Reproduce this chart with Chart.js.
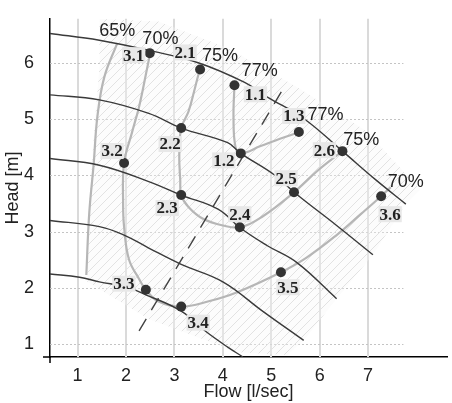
<!DOCTYPE html>
<html>
<head>
<meta charset="utf-8">
<script src="https://cdn.jsdelivr.net/npm/chart.js@4.4.0/dist/chart.umd.min.js"></script>
<style>
  html, body { margin: 0; padding: 0; background: #fff; }
  #wrap { width: 452px; height: 403px; }
</style>
</head>
<body>
<div id="wrap"><canvas id="pumpChart" width="452" height="403"></canvas></div>
<script>
// tick values
var flowTicks = [1, 2, 3, 4, 5, 6, 7];
var headTicks = [1, 2, 3, 4, 5, 6];

// pump curves (one per speed), top to bottom
var speedFlow1 = [0.43, 1.45, 2.47, 3.49, 4.45, 4.92, 5.67, 6.47, 7.16, 7.78];
var speedHead1 = [6.52, 6.40, 6.22, 6.00, 5.65, 5.39, 5.01, 4.43, 3.92, 3.49];
var speedFlow2 = [0.43, 1.45, 2.47, 3.14, 4.10, 4.37, 5.06, 5.53, 6.35, 7.10];
var speedHead2 = [5.43, 5.34, 5.10, 4.84, 4.58, 4.39, 4.01, 3.66, 3.11, 2.59];
var speedFlow3 = [0.43, 1.45, 2.47, 3.14, 3.90, 4.37, 4.92, 5.53, 6.35];
var speedHead3 = [4.30, 4.18, 3.89, 3.65, 3.40, 3.06, 2.75, 2.45, 1.81];
var speedFlow4 = [0.43, 1.45, 1.96, 2.47, 3.14, 4.00, 4.82, 5.67];
var speedHead4 = [3.20, 3.09, 2.94, 2.71, 2.42, 2.11, 1.59, 1.07];
var speedFlow5 = [0.43, 1.04, 1.45, 2.00, 2.41, 3.14, 3.63, 4.10, 4.41];
var speedHead5 = [2.25, 2.19, 2.11, 2.02, 1.88, 1.59, 1.24, 0.95, 0.78];

// iso-efficiency curves
var eff65Flow = [1.82, 1.55, 1.41, 1.33, 1.24, 1.18];
var eff65Head = [6.35, 5.74, 5.05, 4.18, 3.32, 2.23];
var eff70Flow = [2.51, 2.41, 2.27, 2.12, 1.96, 1.94, 1.96, 2.06, 2.27, 2.41, 2.67, 3.14, 3.69, 4.31, 5.20, 5.73, 6.35, 6.86, 7.27, 7.47];
var eff70Head = [6.22, 5.79, 5.22, 4.75, 4.22, 3.49, 3.09, 2.51, 2.16, 1.97, 1.76, 1.67, 1.76, 1.93, 2.28, 2.54, 2.94, 3.32, 3.63, 3.79];
var eff75Flow = [3.59, 3.53, 3.43, 3.29, 3.14, 3.10, 3.12, 3.14, 3.29, 3.59, 4.00, 4.37, 4.82, 5.47, 5.98, 6.47];
var eff75Head = [5.95, 5.88, 5.57, 5.13, 4.84, 4.36, 3.92, 3.65, 3.44, 3.23, 3.11, 3.08, 3.27, 3.70, 4.10, 4.43];
var eff77Flow = [4.24, 4.22, 4.26, 4.37, 4.78, 5.18, 5.59];
var eff77Head = [5.60, 5.04, 4.51, 4.39, 4.52, 4.65, 4.77];

// dashed line
var dashFlow = [2.27, 5.31];
var dashHead = [1.24, 5.63];

// hatched operating area outline
var areaFlow = [1.45, 2.67, 4.10, 5.53, 6.96, 8.08, 7.78, 7.10, 6.35, 5.67, 5.33, 4.31, 2.47, 1.20, 1.24, 1.35, 1.45, 1.45];
var areaHead = [6.78, 6.73, 6.26, 5.57, 4.79, 3.75, 3.49, 2.59, 1.81, 1.07, 0.81, 0.86, 1.45, 2.11, 3.49, 4.88, 5.91, 6.78];

// measured points
var pointNames = ['3.1', '2.1', '1.1', '1.3', '2.6', '3.6', '2.5', '1.2', '2.2', '3.2', '2.3', '2.4', '3.5', '3.3', '3.4'];
var pointFlow  = [2.49, 3.53, 4.24, 5.57, 6.47, 7.27, 5.47, 4.37, 3.14, 1.96, 3.14, 4.35, 5.20, 2.41, 3.14];
var pointHead  = [6.17, 5.88, 5.60, 4.77, 4.43, 3.63, 3.70, 4.39, 4.84, 4.22, 3.65, 3.08, 2.28, 1.97, 1.67];
// label offsets from the dot, in pixels
var labelShift = [[-16, 2], [-15, -17], [21, 9], [-5, -16], [-18, -1], [9, 18], [-8, -14], [-17, 7],
                  [-11, 16], [-12, -12], [-14, 13], [0, -13], [7, 15], [-22, -6], [17, 16]];

// efficiency labels
var effText = ['65%', '70%', '75%', '77%', '77%', '75%', '70%'];
var effFlow = [1.82, 2.71, 3.94, 4.76, 6.12, 6.86, 7.78];
var effHead = [6.57, 6.42, 6.12, 5.86, 5.08, 4.62, 3.89];

var gridEnd = 7.73;

function pts(xs, ys) {
  return xs.map(function (v, i) { return { x: v, y: ys[i] }; });
}

function makeHatch(ctx) {
  var c = document.createElement('canvas');
  c.width = 9; c.height = 9;
  var g = c.getContext('2d');
  g.fillStyle = 'rgba(246,246,246,0.35)';
  g.fillRect(0, 0, 9, 9);
  g.strokeStyle = '#e2e2e2';
  g.lineWidth = 1;
  g.beginPath();
  g.moveTo(0, 9); g.lineTo(9, 0);
  g.moveTo(-1, 1); g.lineTo(1, -1);
  g.moveTo(8, 10); g.lineTo(10, 8);
  g.stroke();
  return ctx.createPattern(c, 'repeat');
}

var gridPlugin = {
  id: 'grid',
  beforeDatasetsDraw: function (chart) {
    var ctx = chart.ctx, xs = chart.scales.x, ys = chart.scales.y, area = chart.chartArea;
    ctx.save();
    ctx.strokeStyle = '#dadada';
    ctx.lineWidth = 2;
    flowTicks.forEach(function (v) {
      var px = Math.round(xs.getPixelForValue(v));
      ctx.beginPath(); ctx.moveTo(px, area.top); ctx.lineTo(px, area.bottom); ctx.stroke();
    });
    ctx.strokeStyle = '#c4c4c4';
    ctx.lineWidth = 1;
    ctx.setLineDash([2, 2]);
    var right = xs.getPixelForValue(gridEnd);
    headTicks.forEach(function (v) {
      var py = Math.round(ys.getPixelForValue(v)) + 0.5;
      ctx.beginPath(); ctx.moveTo(area.left, py); ctx.lineTo(right, py); ctx.stroke();
    });
    ctx.restore();
  },
  afterDraw: function (chart) {
    // axes cross a little at the origin
    var ctx = chart.ctx, area = chart.chartArea;
    ctx.save();
    ctx.strokeStyle = '#000';
    ctx.lineWidth = 1.5;
    ctx.beginPath();
    ctx.moveTo(area.left, area.bottom); ctx.lineTo(area.left, area.bottom + 6);
    ctx.moveTo(area.left - 7, area.bottom); ctx.lineTo(area.left, area.bottom);
    ctx.stroke();
    ctx.restore();
  }
};

var labelPlugin = {
  id: 'labels',
  afterDatasetsDraw: function (chart) {
    var ctx = chart.ctx, xs = chart.scales.x, ys = chart.scales.y;
    ctx.save();
    ctx.textAlign = 'center';
    ctx.textBaseline = 'middle';
    ctx.font = '18px "Liberation Sans", Arial, sans-serif';
    ctx.fillStyle = '#222';
    effText.forEach(function (t, i) {
      ctx.fillText(t, xs.getPixelForValue(effFlow[i]), ys.getPixelForValue(effHead[i]));
    });
    ctx.font = 'bold 17px "Liberation Serif", "Times New Roman", serif';
    pointNames.forEach(function (t, i) {
      var px = xs.getPixelForValue(pointFlow[i]) + labelShift[i][0];
      var py = ys.getPixelForValue(pointHead[i]) + labelShift[i][1];
      var w = ctx.measureText(t).width + 2;
      ctx.fillStyle = '#e8e8e8';
      ctx.fillRect(px - w / 2, py - 8, w, 16);
      ctx.fillStyle = '#222';
      ctx.fillText(t, px, py + 1);
    });
    ctx.restore();
  }
};

var canvas = document.getElementById('pumpChart');
var ctx = canvas.getContext('2d');

function speedSet(fx, hy) {
  return { data: pts(fx, hy), showLine: true, borderColor: '#3a3a3a', borderWidth: 1.4,
           tension: 0.4, pointRadius: 0, fill: false, order: 3 };
}
function effSet(fx, hy) {
  return { data: pts(fx, hy), showLine: true, borderColor: '#b6b6b6', borderWidth: 2.2,
           tension: 0.4, pointRadius: 0, fill: false, order: 5 };
}

var chart = new Chart(ctx, {
  type: 'scatter',
  data: {
    datasets: [
      { data: pts(areaFlow, areaHead), showLine: true, fill: 'shape', backgroundColor: makeHatch(ctx),
        borderWidth: 0, borderColor: 'rgba(0,0,0,0)', pointRadius: 0, tension: 0, order: 10 },
      effSet(eff65Flow, eff65Head),
      effSet(eff70Flow, eff70Head),
      effSet(eff75Flow, eff75Head),
      effSet(eff77Flow, eff77Head),
      { data: pts(dashFlow, dashHead), showLine: true, borderColor: '#444', borderWidth: 1.4,
        borderDash: [14, 10], pointRadius: 0, fill: false, order: 4 },
      speedSet(speedFlow1, speedHead1),
      speedSet(speedFlow2, speedHead2),
      speedSet(speedFlow3, speedHead3),
      speedSet(speedFlow4, speedHead4),
      speedSet(speedFlow5, speedHead5),
      { data: pts(pointFlow, pointHead), showLine: false, pointRadius: 5, pointBackgroundColor: '#333',
        pointBorderWidth: 0, order: 0 }
    ]
  },
  options: {
    responsive: false,
    animation: false,
    layout: { padding: { top: 10, right: 0, left: 0, bottom: 0 } },
    plugins: { legend: { display: false }, tooltip: { enabled: false } },
    scales: {
      x: {
        type: 'linear', min: 0.43, max: 8.63,
        afterBuildTicks: function (axis) { axis.ticks = flowTicks.map(function (v) { return { value: v }; }); },
        afterFit: function (axis) { axis.height = 46; },
        grid: { display: false },
        border: { display: true, color: '#000', width: 1.5 },
        ticks: { color: '#222', padding: 0, font: { family: '"Liberation Sans", Arial, sans-serif', size: 18 } },
        title: { display: true, text: 'Flow [l/sec]', color: '#222', padding: { top: 2, bottom: 0 },
                 font: { family: '"Liberation Sans", Arial, sans-serif', size: 18 } }
      },
      y: {
        type: 'linear', min: 0.775, max: 6.78,
        afterBuildTicks: function (axis) { axis.ticks = headTicks.map(function (v) { return { value: v }; }); },
        afterFit: function (axis) { axis.width = 50; },
        grid: { display: false },
        border: { display: true, color: '#000', width: 1.5 },
        ticks: { color: '#222', padding: 8, font: { family: '"Liberation Sans", Arial, sans-serif', size: 18 } },
        title: { display: true, text: 'Head [m]', color: '#222', padding: { top: 2, bottom: 0 },
                 font: { family: '"Liberation Sans", Arial, sans-serif', size: 18 } }
      }
    }
  },
  plugins: [gridPlugin, labelPlugin]
});
</script>
</body>
</html>
